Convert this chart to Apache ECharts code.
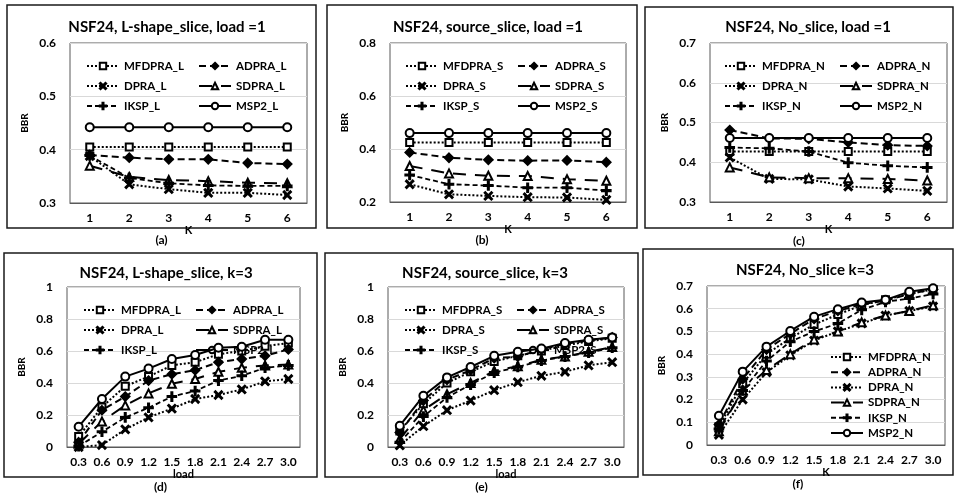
<!DOCTYPE html>
<html>
<head>
<meta charset="utf-8">
<script src="https://cdn.jsdelivr.net/npm/echarts@6/dist/echarts.min.js"></script>
<style>
  html, body { margin: 0; padding: 0; background: #fff; }
  #chart { width: 955px; height: 495px; }
</style>
</head>
<body>
<div id="chart"></div>
<script>
// ---- category labels ----
const kCats = ['1', '2', '3', '4', '5', '6'];
const loadCats = ['0.3', '0.6', '0.9', '1.2', '1.5', '1.8', '2.1', '2.4', '2.7', '3.0'];

// ---- (a) L-shape slice, load = 1, vs K ----
const lK_MFDPRA = [0.405, 0.405, 0.405, 0.405, 0.405, 0.405];
const lK_ADPRA  = [0.390, 0.385, 0.382, 0.382, 0.375, 0.373];
const lK_DPRA   = [0.388, 0.335, 0.326, 0.319, 0.319, 0.315];
const lK_SDPRA  = [0.370, 0.349, 0.343, 0.341, 0.338, 0.337];
const lK_IKSP   = [0.389, 0.347, 0.337, 0.333, 0.332, 0.332];
const lK_MSP2   = [0.442, 0.442, 0.442, 0.442, 0.442, 0.442];

// ---- (b) source slice, load = 1, vs K ----
const sK_MFDPRA = [0.425, 0.425, 0.425, 0.425, 0.425, 0.425];
const sK_ADPRA  = [0.387, 0.367, 0.359, 0.356, 0.357, 0.350];
const sK_DPRA   = [0.267, 0.229, 0.223, 0.218, 0.217, 0.208];
const sK_SDPRA  = [0.336, 0.308, 0.299, 0.298, 0.286, 0.280];
const sK_IKSP   = [0.302, 0.267, 0.262, 0.254, 0.254, 0.243];
const sK_MSP2   = [0.460, 0.460, 0.460, 0.460, 0.460, 0.460];

// ---- (c) no slice, load = 1, vs K ----
const nK_MFDPRA = [0.427, 0.427, 0.427, 0.427, 0.427, 0.427];
const nK_ADPRA  = [0.481, 0.460, 0.459, 0.450, 0.443, 0.441];
const nK_DPRA   = [0.412, 0.358, 0.357, 0.339, 0.334, 0.328];
const nK_SDPRA  = [0.387, 0.362, 0.360, 0.360, 0.358, 0.354];
const nK_IKSP   = [0.437, 0.435, 0.427, 0.399, 0.391, 0.387];
const nK_MSP2   = [0.461, 0.461, 0.461, 0.461, 0.461, 0.461];

// ---- (d) L-shape slice, k = 3, vs load ----
const lL_MFDPRA = [0.065, 0.25, 0.38, 0.44, 0.51, 0.53, 0.58, 0.60, 0.63, 0.65];
const lL_ADPRA  = [0.03, 0.23, 0.315, 0.415, 0.455, 0.48, 0.53, 0.55, 0.57, 0.61];
const lL_DPRA   = [0.0, 0.012, 0.11, 0.185, 0.24, 0.30, 0.325, 0.36, 0.41, 0.425];
const lL_SDPRA  = [0.02, 0.16, 0.26, 0.335, 0.395, 0.425, 0.47, 0.495, 0.51, 0.515];
const lL_IKSP   = [0.005, 0.095, 0.185, 0.245, 0.315, 0.35, 0.415, 0.445, 0.495, 0.51];
const lL_MSP2   = [0.127, 0.30, 0.44, 0.49, 0.55, 0.575, 0.62, 0.627, 0.67, 0.67];

// ---- (e) source slice, k = 3, vs load ----
const sL_MFDPRA = [0.10, 0.27, 0.40, 0.47, 0.535, 0.57, 0.60, 0.635, 0.66, 0.68];
const sL_ADPRA  = [0.09, 0.29, 0.42, 0.48, 0.555, 0.565, 0.61, 0.645, 0.665, 0.685];
const sL_DPRA   = [0.01, 0.13, 0.23, 0.29, 0.355, 0.405, 0.445, 0.47, 0.51, 0.53];
const sL_SDPRA  = [0.05, 0.23, 0.33, 0.40, 0.475, 0.505, 0.545, 0.565, 0.595, 0.625];
const sL_IKSP   = [0.03, 0.19, 0.31, 0.39, 0.465, 0.50, 0.54, 0.565, 0.59, 0.62];
const sL_MSP2   = [0.133, 0.32, 0.435, 0.50, 0.57, 0.595, 0.615, 0.65, 0.67, 0.685];

// ---- (f) no slice, k = 3, vs load ----
const nL_MFDPRA = [0.08, 0.27, 0.40, 0.47, 0.53, 0.575, 0.615, 0.64, 0.665, 0.685];
const nL_ADPRA  = [0.09, 0.29, 0.42, 0.49, 0.555, 0.59, 0.62, 0.635, 0.665, 0.685];
const nL_DPRA   = [0.045, 0.20, 0.32, 0.395, 0.46, 0.50, 0.535, 0.57, 0.59, 0.61];
const nL_SDPRA  = [0.06, 0.24, 0.33, 0.40, 0.465, 0.50, 0.54, 0.57, 0.59, 0.615];
const nL_IKSP   = [0.07, 0.24, 0.37, 0.455, 0.50, 0.535, 0.595, 0.63, 0.645, 0.665];
const nL_MSP2   = [0.129, 0.323, 0.433, 0.502, 0.565, 0.598, 0.627, 0.639, 0.675, 0.69];

// ---- drawing ----
const FONT = 'Lato, "Liberation Sans", sans-serif';
const INK = '#000';

const X_SYMBOL = 'path://M0,1.2L1.2,0L5,3.8L8.8,0L10,1.2L6.2,5L10,8.8L8.8,10L5,6.2L1.2,10L0,8.8L3.8,5Z';
const PLUS_SYMBOL = 'path://M4.2,0H5.8V4.2H10V5.8H5.8V10H4.2V5.8H0V4.2H4.2Z';

// line + marker look of each algorithm
const algoStyle = {
  MFDPRA: { symbol: 'emptyRect', size: 7, line: 'dotted', width: 2 },
  ADPRA:  { symbol: 'diamond', size: 9, line: [7, 4], width: 2 },
  DPRA:   { symbol: X_SYMBOL, size: 8, line: 'dotted', width: 2 },
  SDPRA:  { symbol: 'emptyTriangle', size: 8, line: [13, 9], width: 2 },
  IKSP:   { symbol: PLUS_SYMBOL, size: 9, line: [5, 3], width: 1.8 },
  MSP2:   { symbol: 'emptyCircle', size: 8, line: 'solid', width: 2 }
};
const ALGOS = ['MFDPRA', 'ADPRA', 'DPRA', 'SDPRA', 'IKSP', 'MSP2'];

const panels = [
  { title: 'NSF24, L-shape_slice, load =1', tag: '(a)', suffix: '_L', cats: kCats, xName: 'K',
    data: [lK_MFDPRA, lK_ADPRA, lK_DPRA, lK_SDPRA, lK_IKSP, lK_MSP2],
    y: [0.3, 0.6, 0.1], grid: [70, 43, 237, 160], box: [7, 5, 309, 223], titleX: 162, titleY: 15, tagY: 234,
    legX: [81, 193] },
  { title: 'NSF24, source_slice, load =1', tag: '(b)', suffix: '_S', cats: kCats, xName: 'K',
    data: [sK_MFDPRA, sK_ADPRA, sK_DPRA, sK_SDPRA, sK_IKSP, sK_MSP2],
    y: [0.2, 0.8, 0.2], grid: [390, 43, 236, 159], box: [327, 5, 310, 223], titleX: 483, titleY: 15, tagY: 234,
    legX: [400, 512] },
  { title: 'NSF24, No_slice, load =1', tag: '(c)', suffix: '_N', cats: kCats, xName: 'K',
    data: [nK_MFDPRA, nK_ADPRA, nK_DPRA, nK_SDPRA, nK_IKSP, nK_MSP2],
    y: [0.3, 0.7, 0.1], grid: [710, 43, 237, 159], box: [645, 7, 308, 221], titleX: 803, titleY: 15, tagY: 235,
    legX: [719, 834] },
  { title: 'NSF24, L-shape_slice, k=3', tag: '(d)', suffix: '_L', cats: loadCats, xName: 'load',
    data: [lL_MFDPRA, lL_ADPRA, lL_DPRA, lL_SDPRA, lL_IKSP, lL_MSP2],
    y: [0, 1, 0.2], grid: [67, 287, 233, 160], box: [4, 253, 313, 224], titleX: 161, titleY: 261, tagY: 481,
    legX: [78, 190] },
  { title: 'NSF24, source_slice, k=3', tag: '(e)', suffix: '_S', cats: loadCats, xName: 'load',
    data: [sL_MFDPRA, sL_ADPRA, sL_DPRA, sL_SDPRA, sL_IKSP, sL_MSP2],
    y: [0, 1, 0.2], grid: [388, 287, 236, 160], box: [325, 253, 313, 224], titleX: 480, titleY: 261, tagY: 481,
    legX: [399, 511] },
  { title: 'NSF24, No_slice k=3', tag: '(f)', suffix: '_N', cats: loadCats, xName: 'K',
    data: [nL_MFDPRA, nL_ADPRA, nL_DPRA, nL_SDPRA, nL_IKSP, nL_MSP2],
    y: [0, 0.7, 0.1], grid: [707, 286, 238, 159], box: [643, 249, 310, 226], titleX: 800, titleY: 258, tagY: 478,
    legX: [825] }
];

function fmtTick(v) {
  if (Math.abs(v) < 1e-9) return '0';
  if (Math.abs(v - 1) < 1e-9) return '1';
  return v.toFixed(1);
}

const option = {
  animation: false,
  backgroundColor: '#fff',
  textStyle: { fontFamily: FONT, color: INK },
  title: [], grid: [], xAxis: [], yAxis: [], series: [], legend: [], graphic: []
};

panels.forEach((p, i) => {
  const [gl, gt, gw, gh] = p.grid;
  option.grid.push({ left: gl, top: gt, width: gw, height: gh, show: true,
    borderColor: '#595959', borderWidth: 1, backgroundColor: 'transparent' });

  option.title.push({ text: p.title, left: p.titleX, top: p.titleY, textAlign: 'center',
    textStyle: { fontFamily: FONT, fontWeight: 'bold', fontSize: 15, color: INK } });

  option.xAxis.push({
    type: 'category', gridIndex: i, data: p.cats, boundaryGap: true,
    name: p.xName, nameLocation: 'middle', nameGap: i < 3 ? 12 : 11,
    nameTextStyle: { fontFamily: FONT, fontWeight: 'bold', fontSize: 11, color: INK, verticalAlign: 'top' },
    axisLine: { show: true, lineStyle: { color: '#595959', width: 1 } },
    axisTick: { show: false },
    axisLabel: { fontFamily: FONT, fontWeight: 'bold', fontSize: 12, color: INK, margin: 9, interval: 0 },
    splitLine: { show: false }
  });

  option.yAxis.push({
    type: 'value', gridIndex: i, min: p.y[0], max: p.y[1], interval: p.y[2],
    name: 'BBR', nameLocation: 'middle', nameGap: 40, nameRotate: 90,
    nameTextStyle: { fontFamily: FONT, fontWeight: 'bold', fontSize: 10, color: INK },
    axisLine: { show: false }, axisTick: { show: false },
    axisLabel: { fontFamily: FONT, fontWeight: 'bold', fontSize: 12, color: INK, margin: 14,
      formatter: fmtTick },
    splitLine: { show: true, lineStyle: { color: '#d9d9d9', width: 1 } }
  });

  ALGOS.forEach((a, j) => {
    const st = algoStyle[a];
    option.series.push({
      type: 'line', name: a + p.suffix, xAxisIndex: i, yAxisIndex: i,
      data: p.data[j],
      symbol: st.symbol, symbolSize: st.size, showAllSymbol: true,
      lineStyle: { color: INK, width: st.width, type: st.line },
      itemStyle: { color: INK, borderColor: INK, borderWidth: 1.6 },
      z: 2 + j
    });
  });

  const legendText = { fontFamily: FONT, fontWeight: 'bold', fontSize: 11.5, color: INK, lineHeight: 14 };
  if (i < 5) {
    // two columns of three entries, inside the upper plot area
    const cols = [['MFDPRA', 'DPRA', 'IKSP'], ['ADPRA', 'SDPRA', 'MSP2']];
    cols.forEach((col, c) => {
      option.legend.push({
        orient: 'vertical', left: p.legX[c], top: gt + 11,
        data: col.map(a => a + p.suffix),
        itemWidth: 32, itemHeight: 8, itemGap: 6,
        textStyle: legendText, inactiveColor: '#999'
      });
    });
  } else {
    option.legend.push({
      orient: 'vertical', left: p.legX[0], top: 345,
      data: ALGOS.map(a => a + p.suffix),
      itemWidth: 32, itemHeight: 8, itemGap: 1.2,
      textStyle: legendText, inactiveColor: '#999'
    });
  }

  const [bx, by, bw, bh] = p.box;
  option.graphic.push({
    type: 'rect', shape: { x: bx, y: by, width: bw, height: bh }, silent: true, z: -1,
    style: { fill: 'none', stroke: '#1a1a1a', lineWidth: 1.5 }
  });
  option.graphic.push({
    type: 'text', x: bx + bw / 2, y: p.tagY, silent: true,
    style: { text: p.tag, fontFamily: FONT, fontWeight: 'bold', fontSize: 12, fill: INK,
      align: 'center', verticalAlign: 'top' }
  });
});

const chart = echarts.init(document.getElementById('chart'), null, { renderer: 'canvas' });
chart.setOption(option);
</script>
</body>
</html>
